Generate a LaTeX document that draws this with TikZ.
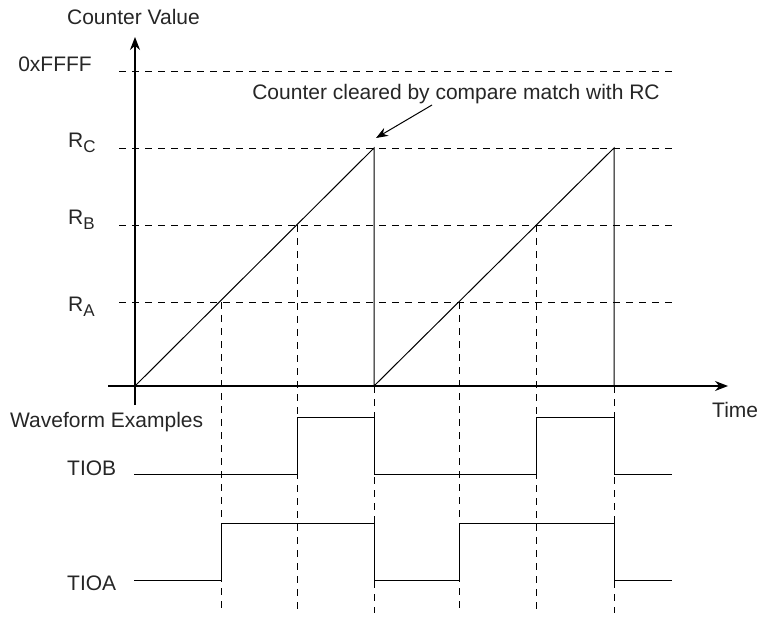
\documentclass[tikz,border=0pt]{standalone}
\usepackage{fontspec}
\setmainfont{Liberation Sans}
\usetikzlibrary{arrows.meta}
\newcommand{\Rsub}[1]{R\raisebox{-5pt}{\fontsize{17}{17}\selectfont #1}}
\begin{document}
\begin{tikzpicture}[x=1pt,y=-1pt,
  lbl/.style={inner sep=0pt, font=\fontsize{21}{25}\selectfont, text=black!85},
  dsh/.style={line width=0.9pt, dash pattern=on 7pt off 6pt},
  sol/.style={line width=1pt},
  axis/.style={line width=1.2pt,-{Stealth[length=13pt,width=10pt]}},
  pointer/.style={line width=1pt,-{Stealth[length=12pt,width=9pt]}}]
\useasboundingbox (0,0) rectangle (757,617);
% axes
\coordinate (O) at (135,386);
\coordinate (ytip) at (135,37);
\coordinate (ybot) at (135,405);
\coordinate (xl) at (108,386);
\coordinate (xtip) at (728,386);
\draw[axis] (ybot) -- (ytip);
\draw[axis] (xl) -- (xtip);
% horizontal dashed levels
\foreach \n/\y in {F/71,C/148,B/225,A/302}{
  \coordinate (h\n l) at (119,\y);
  \coordinate (h\n r) at (672,\y);
  \draw[dsh] (h\n l) -- (h\n r);
}
% vertical dashed guides
\foreach \n/\x/\y in {a1/221/302,b1/297/225,c1/374/386,a2/459/302,b2/536/225,c2/614/386}{
  \coordinate (v\n t) at (\x,\y);
  \coordinate (v\n b) at (\x,613);
  \draw[dsh] (v\n t) -- (v\n b);
}
% ramps
\coordinate (C1) at (374,148);
\coordinate (C1b) at (374,386);
\coordinate (C2) at (614,148);
\coordinate (C2b) at (614,386);
\draw[sol] (O) -- (C1) -- (C1b) -- (C2) -- (C2b);
% waveforms
\draw[sol] (134,474) -- (297,474) -- (297,417) -- (374,417) -- (374,474)
  -- (536,474) -- (536,417) -- (614,417) -- (614,474) -- (672,474);
\draw[sol] (134,580) -- (221,580) -- (221,523) -- (374,523) -- (374,580)
  -- (459,580) -- (459,523) -- (614,523) -- (614,580) -- (672,580);
% labels
\node[lbl, anchor=base] (cv) at (133.5,25) {Counter Value};
\node[lbl, anchor=base east] (ff) at (92,72) {0xFFFF};
\node[lbl, anchor=base west] (rc) at (68,148) {\Rsub{C}};
\node[lbl, anchor=base west] (rb) at (68,225) {\Rsub{B}};
\node[lbl, anchor=base west] (ra) at (68,312) {\Rsub{A}};
\node[lbl, anchor=base west] (tm) at (712,417) {Time};
\node[lbl, anchor=base west] (we) at (10,427) {Waveform Examples};
\node[lbl, anchor=base west] (tb) at (67,475) {TIOB};
\node[lbl, anchor=base west] (ta) at (67,590) {TIOA};
\node[lbl, anchor=base] (note) at (456,100) {Counter cleared by compare match with RC};
\coordinate (ns) at (432,105);
\coordinate (ne) at (376,138);
\draw[pointer] (ns) -- (ne);
\end{tikzpicture}
\end{document}
